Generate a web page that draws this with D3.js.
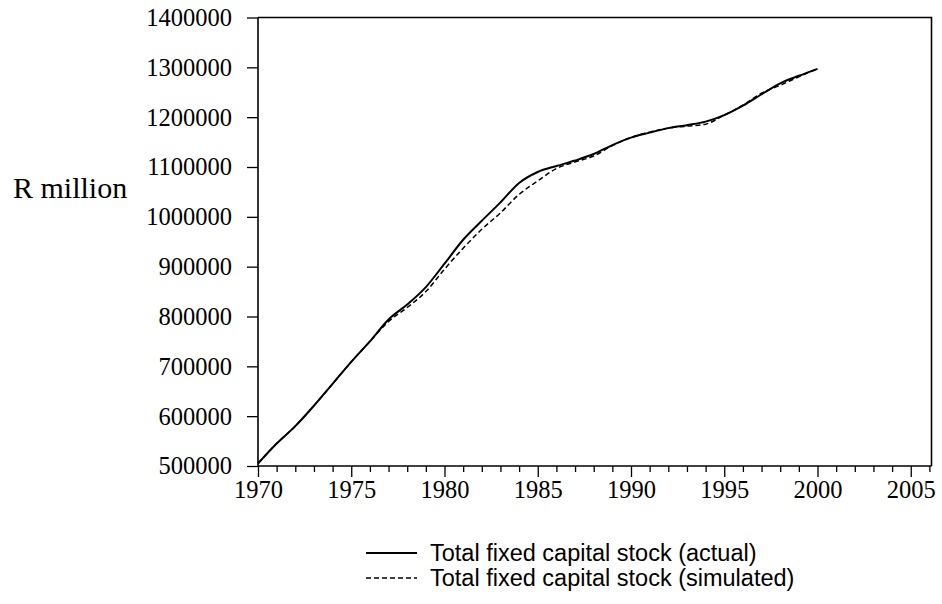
<!DOCTYPE html>
<html>
<head>
<meta charset="utf-8">
<script src="https://cdn.jsdelivr.net/npm/d3@7"></script>
<style>
  body { margin: 0; background: white; }
  svg { display: block; background: white; }
  .tick text { font-family: "Liberation Serif", "Times New Roman", serif; }
  .legend text { font-family: "Liberation Sans", Arial, sans-serif; }
</style>
</head>
<body>
<svg></svg>
<script>
// data
var years = d3.range(1970, 2001);
var actual = [505000, 545000, 580000, 621000, 665000, 709000, 750000, 794000, 824000, 859000,
              906000, 954000, 992000, 1029000, 1068000, 1090000, 1102000, 1113000, 1126000, 1144000,
              1159000, 1169000, 1178000, 1184000, 1191000, 1204000, 1223000, 1246000, 1268000, 1283000,
              1297000];
var simulated = [505000, 545000, 580000, 621000, 665000, 709000, 750000, 790000, 818000, 850000,
                 895000, 937000, 975000, 1008000, 1045000, 1072000, 1097000, 1110000, 1122000, 1143000,
                 1159000, 1170000, 1178000, 1182000, 1186000, 1204000, 1224000, 1248000, 1264000, 1281000,
                 1297000];
var yTicks = d3.range(500000, 1400001, 100000);
var xMajor = [1970, 1975, 1980, 1985, 1990, 1995, 2000, 2005];
var seriesNames = ["Total fixed capital stock (actual)", "Total fixed capital stock (simulated)"];

var width = 942, height = 604;
var plot = {left: 258, right: 931.5, top: 17.5, bottom: 466};

var svg = d3.select("svg").attr("width", width).attr("height", height);

var x = d3.scaleLinear().domain([1970, 2006]).range([plot.left, plot.left + 36 * 18.65]);
var y = d3.scaleLinear().domain([500000, 1400000]).range([plot.bottom, plot.top]);

// frame (top + right)
svg.append("path")
  .attr("d", "M" + plot.left + "," + plot.top + "H" + plot.right + "V" + plot.bottom)
  .attr("fill", "none").attr("stroke", "#000").attr("stroke-width", 1.6);

// y axis
var yAxis = svg.append("g")
  .attr("transform", "translate(" + plot.left + ",0)")
  .call(d3.axisLeft(y).tickValues(yTicks).tickSize(11).tickPadding(15).tickFormat(d3.format("d")));
yAxis.selectAll("text").attr("font-size", 24.5).attr("fill", "#000");
yAxis.select(".domain").attr("stroke-width", 1.6).attr("d", "M0," + plot.top + "V" + plot.bottom);
yAxis.selectAll(".tick line").attr("stroke-width", 1.3);

// x axis, ticks every year, longer on multiples of 5
var xAxis = svg.append("g")
  .attr("transform", "translate(0," + plot.bottom + ")")
  .call(d3.axisBottom(x).tickValues(d3.range(1970, 2007)).tickSize(6).tickPadding(5)
    .tickFormat(function(d) { return xMajor.indexOf(d) >= 0 ? d : ""; }));
xAxis.select(".domain").attr("stroke-width", 1.6).attr("d", "M" + plot.left + ",0H" + plot.right);
xAxis.selectAll(".tick line").attr("stroke-width", 1.3)
  .attr("y2", function(d) { return d % 5 === 0 ? 11 : 6; });
xAxis.selectAll("text").attr("font-size", 24.5).attr("fill", "#000").attr("dy", "0.85em");

// y label
svg.append("text")
  .attr("x", 13).attr("y", 198)
  .attr("font-family", "Liberation Serif, Times New Roman, serif")
  .attr("font-size", 30)
  .text("R million");

var line = d3.line()
  .x(function(d, i) { return x(years[i]); })
  .y(function(d) { return y(d); })
  .curve(d3.curveMonotoneX);

svg.append("path").datum(simulated)
  .attr("d", line).attr("fill", "none").attr("stroke", "#000")
  .attr("stroke-width", 1.5).attr("stroke-dasharray", "5,3");
svg.append("path").datum(actual)
  .attr("d", line).attr("fill", "none").attr("stroke", "#000")
  .attr("stroke-width", 2);

// legend
var legend = svg.append("g").attr("class", "legend");
seriesNames.forEach(function(name, i) {
  var ly = 553 + i * 25;
  legend.append("line")
    .attr("x1", 366).attr("x2", 417).attr("y1", ly).attr("y2", ly)
    .attr("stroke", "#000").attr("stroke-width", i === 0 ? 2 : 1.5)
    .attr("stroke-dasharray", i === 0 ? null : "5,3");
  legend.append("text")
    .attr("x", 430).attr("y", ly + 8)
    .attr("font-size", 23.5)
    .text(name);
});
</script>
</body>
</html>
